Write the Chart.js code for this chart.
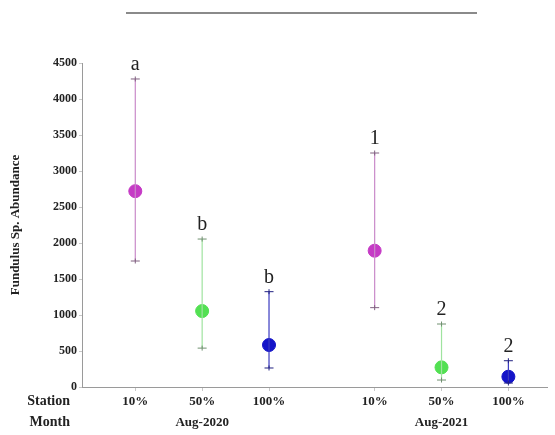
<!DOCTYPE html>
<html>
<head>
<meta charset="utf-8">
<script src="https://cdn.jsdelivr.net/npm/chart.js@4.4.1/dist/chart.umd.min.js"></script>
<style>
  html, body { margin: 0; padding: 0; background: #fff; }
  #wrap { position: relative; width: 555px; height: 435px; }
  #topline { position: absolute; left: 126px; top: 12px; width: 351px; border-top: 2px solid #8a8a8a; }
</style>
</head>
<body>
<div id="wrap">
  <div id="topline"></div>
  <canvas id="chart" width="555" height="435"></canvas>
</div>
<script>
// data
const stations = ['10%', '50%', '100%', '10%', '50%', '100%'];
const months = ['Aug-2020', 'Aug-2021'];
const meanVals = [2720, 1055, 583, 1893, 273, 143];
const upperVals = [4278, 2055, 1324, 3250, 875, 365];
const lowerVals = [1750, 540, 264, 1102, 97, 55];
const letters = ['a', 'b', 'b', '1', '2', '2'];

const pointColors = ['#c53ac5', '#52e052', '#1414c8', '#c53ac5', '#52e052', '#1414c8'];
const lineColors = ['#c98ac9', '#9fe39f', '#3a3ac0', '#c98ac9', '#9fe39f', '#3a3ac0'];
const capColors = ['#806080', '#709070', '#202080', '#806080', '#709070', '#202080'];

const GROUP_STEP = 3.58; // spacing between the two month groups on the x axis
const perGroup = stations.length / months.length;
const xPos = stations.map((s, i) => Math.floor(i / perGroup) * GROUP_STEP + (i % perGroup) + 1);

const tickLabels = stations.map((s, i) => {
  const g = Math.floor(i / perGroup);
  return (i % perGroup === 1) ? [s, months[g]] : s;
});

const serif = "'Liberation Serif', 'Times New Roman', serif";

const errorBars = {
  id: 'errorBars',
  afterDatasetsDraw(chart) {
    const { ctx, scales: { x, y } } = chart;
    ctx.save();
    meanVals.forEach((m, i) => {
      const px = x.getPixelForValue(xPos[i]);
      const yt = y.getPixelForValue(upperVals[i]);
      const yb = y.getPixelForValue(lowerVals[i]);
      ctx.strokeStyle = lineColors[i];
      ctx.lineWidth = 1.2;
      ctx.beginPath();
      ctx.moveTo(px, yt);
      ctx.lineTo(px, yb);
      ctx.stroke();
      ctx.strokeStyle = capColors[i];
      ctx.lineWidth = 1;
      [yt, yb].forEach(yy => {
        ctx.beginPath();
        ctx.moveTo(px - 4.5, yy);
        ctx.lineTo(px + 4.5, yy);
        ctx.moveTo(px, yy - 2.5);
        ctx.lineTo(px, yy + 2.5);
        ctx.stroke();
      });
      ctx.fillStyle = '#222';
      ctx.font = '20px ' + serif;
      ctx.textAlign = 'center';
      ctx.textBaseline = 'bottom';
      ctx.fillText(letters[i], px, yt - 4);
    });
    // row captions at the left of the x axis
    ctx.fillStyle = '#222';
    ctx.font = 'bold 14px ' + serif;
    ctx.textAlign = 'right';
    ctx.textBaseline = 'middle';
    ctx.fillText('Station', 70, x.top + 14);
    ctx.fillText('Month', 70, x.top + 35);
    ctx.restore();
  }
};

const ctx = document.getElementById('chart').getContext('2d');
new Chart(ctx, {
  type: 'scatter',
  data: {
    datasets: [{
      data: meanVals.map((v, i) => ({ x: xPos[i], y: v })),
      pointBackgroundColor: pointColors,
      pointBorderColor: pointColors,
      pointRadius: 6.5,
      pointHoverRadius: 6.5
    }]
  },
  plugins: [errorBars],
  options: {
    responsive: false,
    animation: false,
    layout: { padding: { top: 63, right: 7, left: 0, bottom: 0 } },
    plugins: { legend: { display: false }, tooltip: { enabled: false } },
    scales: {
      x: {
        type: 'linear',
        min: 0.203,
        max: 7.165,
        afterBuildTicks: scale => { scale.ticks = xPos.map(v => ({ value: v })); },
        afterFit: scale => { scale.height = 48; },
        border: { color: '#9a9a9a', width: 1 },
        grid: { display: true, drawOnChartArea: false, tickLength: 4, color: '#c8c8c8' },
        ticks: {
          padding: 0,
          autoSkip: false,
          maxRotation: 0,
          color: '#222',
          font: { family: serif, size: 13, weight: 'bold', lineHeight: 1.62 },
          callback: (v, i) => tickLabels[i]
        }
      },
      y: {
        min: 0,
        max: 4500,
        afterFit: scale => { scale.width = 82; },
        border: { color: '#9a9a9a', width: 1 },
        grid: { display: true, drawOnChartArea: false, tickLength: 3, color: '#c8c8c8' },
        ticks: {
          stepSize: 500,
          padding: 2,
          color: '#222',
          font: { family: serif, size: 12, weight: 'bold' },
          callback: v => String(v)
        },
        title: {
          display: true,
          text: 'Fundulus Sp. Abundance',
          color: '#222',
          padding: { top: 8, bottom: 0 },
          font: { family: serif, size: 13, weight: 'bold' }
        }
      }
    }
  }
});
</script>
</body>
</html>
